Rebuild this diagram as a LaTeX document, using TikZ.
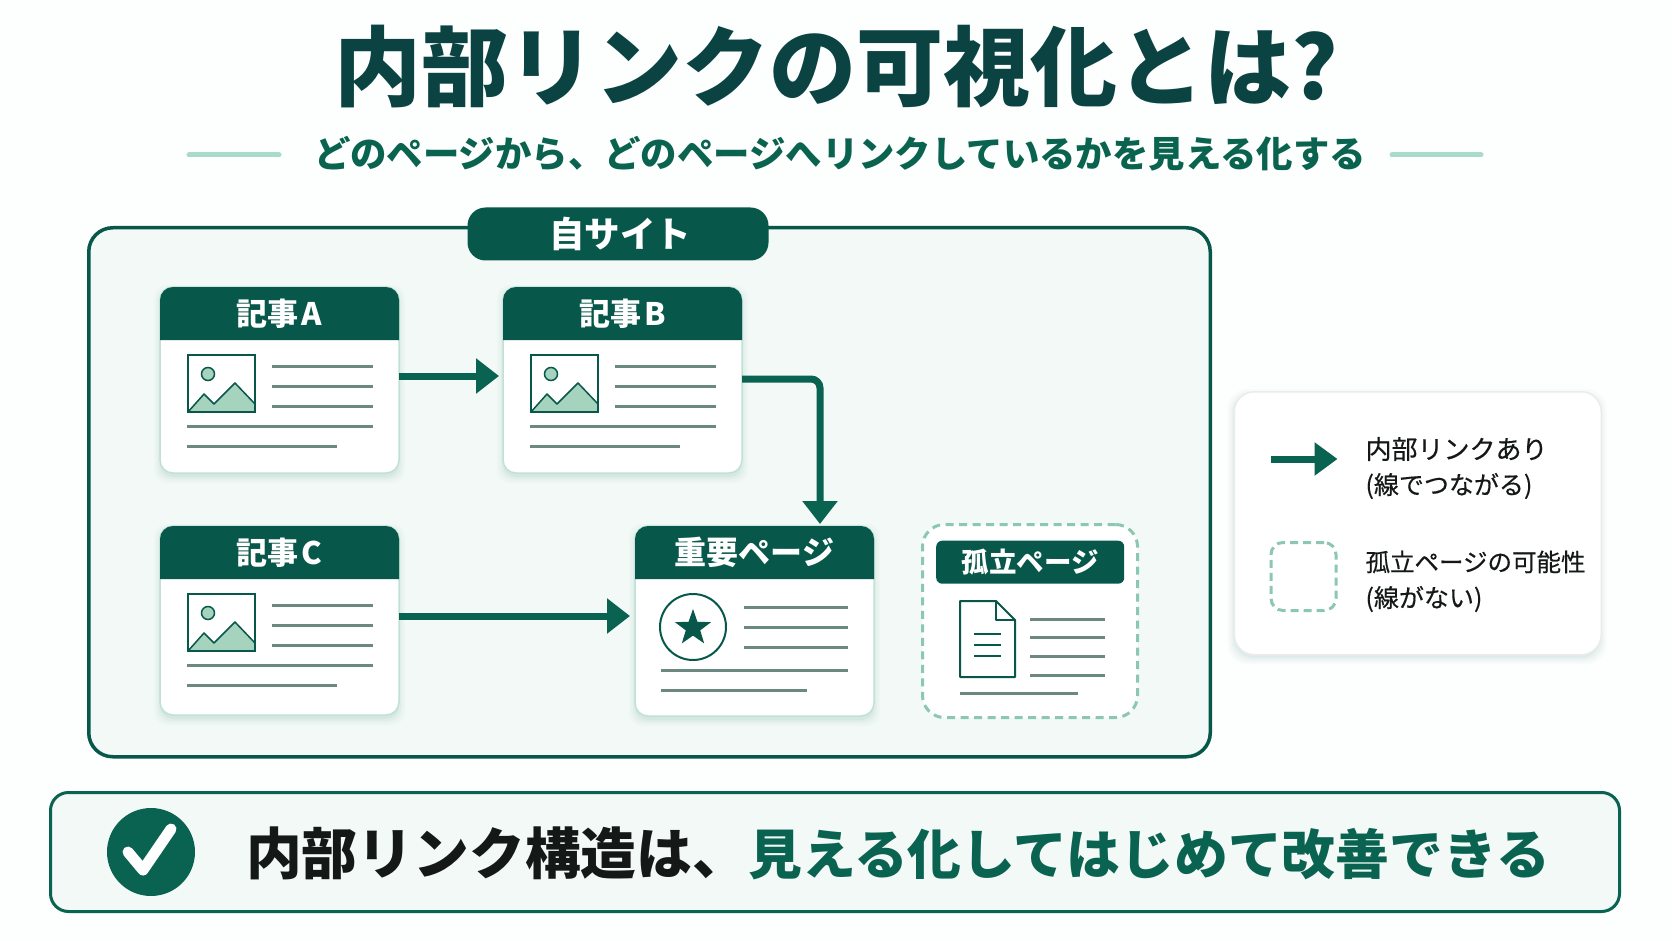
\documentclass[tikz,border=0pt]{standalone}
\usepackage{fontspec}
\usetikzlibrary{arrows.meta,shapes.geometric}
\setmainfont{Noto Sans CJK JP}
\newfontfamily\jp{Noto Sans CJK JP}
\newfontfamily\jpm[FakeBold=0.35]{Noto Sans CJK JP}
\newcommand{\fsz}[1]{\fontsize{#1}{#1}\selectfont}
\definecolor{bgw}{HTML}{FDFEFE}
\definecolor{titlec}{HTML}{0B4342}
\definecolor{deep}{HTML}{07574A}
\definecolor{arrowc}{HTML}{0A6350}
\definecolor{subc}{HTML}{0A634E}
\definecolor{panel}{HTML}{F2F9F6}
\definecolor{mint}{HTML}{A9DCC8}
\definecolor{dashc}{HTML}{8CC8B0}
\definecolor{mount}{HTML}{A6D3BD}
\definecolor{greyl}{HTML}{6C8981}
\definecolor{edgec}{HTML}{BFE2D5}
\definecolor{inkc}{HTML}{141816}
\definecolor{shadowc}{HTML}{4F9C84}
\tikzset{
  txt/.style={inner sep=0pt,outer sep=0pt,font=\jp\bfseries},
  hdrtxt/.style={txt,text=white},
  legtxt/.style={inner sep=0pt,outer sep=0pt,text=inkc,anchor=west},
  cardbox/.style={draw=edgec,line width=1.5pt,fill=white,rounded corners=13pt,inner sep=0pt,outer sep=0pt,anchor=north west},
  textline/.style={draw=greyl,line width=3pt},
  iconline/.style={draw=deep,line width=2pt},
  linkarrow/.style={draw=arrowc,line width=7pt,-{Triangle[length=23pt,width=34pt]}},
  deco/.style={draw=mint,line width=5pt,line cap=round},
}
% soft shadow: x y w h radius
\newcommand{\softshadow}[5]{%
  \foreach \e/\o in {6/.025,4/.035,2/.05,0/.07}{%
    \fill[shadowc,opacity=\o,rounded corners=#5pt]
      ({#1-\e},{#2+4-\e}) rectangle ({#1+#3+\e},{#2+#4+4+\e});}}
% page card: name x y w h header-height title size
\newcommand{\pagecard}[8]{%
  \softshadow{#2}{#3}{#4}{#5}{13}
  \node[cardbox,minimum width=#4pt,minimum height=#5pt] (#1) at (#2,#3) {};
  \fill[deep] (#2,{#3+#6}) [rounded corners=13pt] -- (#2,#3) -- ({#2+#4},#3) [sharp corners] -- ({#2+#4},{#3+#6}) -- cycle;
  \node[hdrtxt,font=\jp\bfseries\fsz{#8}] (#1title) at ({#2+#4/2},{#3+#6/2}) {#7};}
% picture + text lines of an article, origin = card's top left corner
\newcommand{\articlebody}[2]{%
  \begin{scope}[shift={(#1,#2)}]
    \fill[white] (28,68) rectangle (95,125);
    \path[fill=mount,draw=deep,line width=1.5pt,line join=round] (28,125) -- (44,107) -- (54,117) -- (75,96) -- (95,117) -- (95,125) -- cycle;
    \draw[deep,line width=2pt] (28,68) rectangle (95,125);
    \draw[fill=mount,draw=deep,line width=1.5pt] (48,87) circle (6.5);
    \draw[textline] (112,79) -- (213,79);
    \draw[textline] (112,99) -- (213,99);
    \draw[textline] (112,119) -- (213,119);
    \draw[textline] (27,139) -- (213,139);
    \draw[textline] (27,159) -- (177,159);
  \end{scope}}
\begin{document}
\begin{tikzpicture}[x=1pt,y=-1pt]
\useasboundingbox (0,0) rectangle (1672,941);
\fill[bgw] (0,0) rectangle (1672,941);

% title
\node[txt,text=titlec,font=\jp\bfseries\fsz{87}] (title) at (836,67) {内部リンクの可視化とは?};
\node[txt,text=subc,font=\jp\bfseries\fsz{36.4}] (subtitle) at (840,154) {どのページから、どのページへリンクしているかを見える化する};
\coordinate (decoLa) at (189,155); \coordinate (decoLb) at (279,155);
\coordinate (decoRa) at (1392,155); \coordinate (decoRb) at (1481,155);
\draw[deco] (decoLa) -- (decoLb);
\draw[deco] (decoRa) -- (decoRb);

% site frame
\node[draw=deep,line width=3.5pt,fill=panel,rounded corners=24pt,minimum width=1121.5pt,minimum height=529pt,inner sep=0pt,anchor=north west] (site) at (87,226) {};
\node[fill=deep,rounded corners=18pt,minimum width=301pt,minimum height=53pt,inner sep=0pt] (sitebadge) at (618,234) {};
\node[hdrtxt,font=\jp\bfseries\fsz{35.5}] (sitelabel) at (620,234) {自サイト};

% cards
\pagecard{cardA}{160}{287}{239}{186}{53}{記事\hspace{3pt}A}{31}
\articlebody{160}{287}
\pagecard{cardB}{503}{287}{239}{186}{53}{記事\hspace{3pt}B}{31}
\articlebody{503}{287}
\pagecard{cardC}{160}{526}{239}{189}{53}{記事\hspace{3pt}C}{31}
\articlebody{160}{526}
\pagecard{cardI}{635}{526}{239}{190}{53}{重要ページ}{32}

% important card body
\draw[deep,line width=2pt,fill=white] (693,627) circle (33);
\node[star,star points=5,star point ratio=2.5,fill=deep,minimum size=38pt,inner sep=0pt] (starmark) at (693,628) {};
\draw[textline] (744,607) -- (848,607);
\draw[textline] (744,627) -- (848,627);
\draw[textline] (744,647) -- (848,647);
\draw[textline] (661,670) -- (848,670);
\draw[textline] (661,690) -- (807,690);

% orphan page
\node[draw=dashc,line width=3pt,dash pattern=on 8pt off 5.5pt,fill=white,rounded corners=22pt,minimum width=215pt,minimum height=193pt,inner sep=0pt,anchor=north west] (orphan) at (921,523) {};
\node[fill=deep,rounded corners=6pt,minimum width=188pt,minimum height=43pt,inner sep=0pt,anchor=north west] (orphanhdr) at (936,540.5) {};
\node[hdrtxt,font=\jp\bfseries\fsz{27.5}] (orphantitle) at (orphanhdr.center) {孤立ページ};
\draw[deep,line width=2pt,line join=round,fill=white] (960,601) -- (996,601) -- (1015,620) -- (1015,677) -- (960,677) -- cycle;
\draw[deep,line width=2pt,line join=round] (996,601) -- (996,620) -- (1015,620);
\draw[iconline] (974,634) -- (1001,634);
\draw[iconline] (974,645) -- (1001,645);
\draw[iconline] (974,656) -- (1001,656);
\draw[textline] (1030,619) -- (1105,619);
\draw[textline] (1030,637) -- (1105,637);
\draw[textline] (1030,656) -- (1105,656);
\draw[textline] (1030,675) -- (1105,675);
\draw[textline] (960,693) -- (1078,693);

% links
\draw[linkarrow] ([yshift=4pt]cardA.east) -- ([yshift=4pt,xshift=-4pt]cardB.west);
\draw[linkarrow,rounded corners=9pt] ([yshift=1pt]cardB.east) -- (820,379) -- ([xshift=65.5pt,yshift=2pt]cardI.north);
\draw[linkarrow] ([yshift=4.5pt]cardC.east) -- ([yshift=5pt,xshift=-5pt]cardI.west);

% legend
\softshadow{1233.5}{391}{367}{263}{20}
\node[draw=black!8,line width=1.5pt,fill=white,rounded corners=20pt,minimum width=367pt,minimum height=263pt,inner sep=0pt,anchor=north west] (legend) at (1233.5,391) {};
\coordinate (legA) at (1271,459); \coordinate (legB) at (1337.5,459);
\draw[draw=arrowc,line width=7pt,-{Triangle[length=23pt,width=32pt]}] (legA) -- (legB);
\node[legtxt,font=\jpm\fsz{26}] (leg1a) at (1365.5,449) {内部リンクあり};
\node[legtxt,font=\jpm\fsz{25}] (leg1b) at (1365.5,486) {(線でつながる)};
\node[draw=dashc,line width=3pt,dash pattern=on 8pt off 5pt,rounded corners=12pt,minimum width=65pt,minimum height=68pt,inner sep=0pt,anchor=north west] (legdash) at (1269.5,541) {};
\node[legtxt,font=\jpm\fsz{24.5}] (leg2a) at (1365.5,562) {孤立ページの可能性};
\node[legtxt,font=\jpm\fsz{25}] (leg2b) at (1365.5,599) {(線がない)};

% banner
\node[draw=arrowc,line width=3pt,fill=panel,rounded corners=18pt,minimum width=1569pt,minimum height=119pt,inner sep=0pt,anchor=north west] (banner) at (49,791) {};
\node[circle,fill=arrowc,minimum size=88pt,inner sep=0pt] (checkdisc) at (151,852) {};
\coordinate (chkA) at (128,852); \coordinate (chkB) at (143,870); \coordinate (chkC) at (171,829);
\draw[white,line width=11pt,line cap=round,line join=round] (chkA) -- (chkB) -- (chkC);
\node[txt,font=\jp\bfseries\fsz{53.8},anchor=west] (bannertext) at (246,853) {\textcolor{inkc}{\fsz{55.8}内部リンク構造は、}\textcolor{arrowc}{見える化してはじめて改善できる}};
\end{tikzpicture}
\end{document}
